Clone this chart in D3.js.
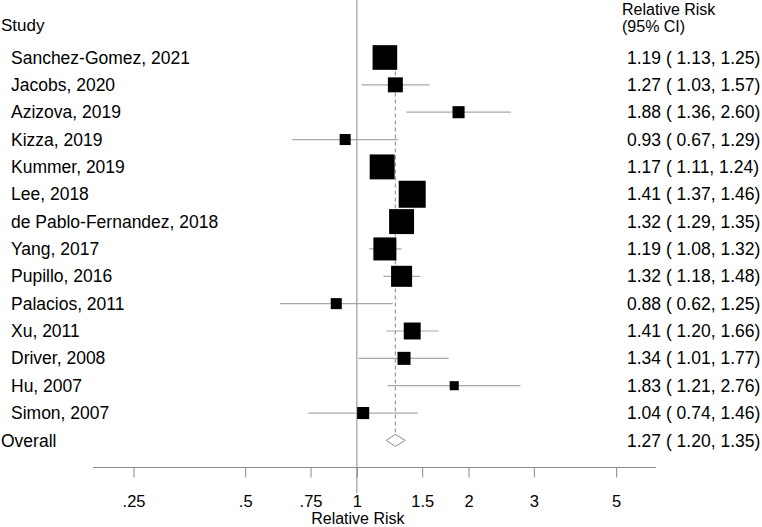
<!DOCTYPE html>
<html><head><meta charset="utf-8">
<script src="https://cdn.jsdelivr.net/npm/d3@7"></script>
<style>body{margin:0;background:#fff}svg{display:block}text{font-family:"Liberation Sans",Arial,sans-serif;fill:#000}</style>
</head><body><svg id="c" width="762" height="527"></svg>
<script>
const studies = ["Sanchez-Gomez, 2021","Jacobs, 2020","Azizova, 2019","Kizza, 2019","Kummer, 2019","Lee, 2018","de Pablo-Fernandez, 2018","Yang, 2017","Pupillo, 2016","Palacios, 2011","Xu, 2011","Driver, 2008","Hu, 2007","Simon, 2007"];
const rr    = [1.19,1.27,1.88,0.93,1.17,1.41,1.32,1.19,1.32,0.88,1.41,1.34,1.83,1.04];
const lower = [1.13,1.03,1.36,0.67,1.11,1.37,1.29,1.08,1.18,0.62,1.20,1.01,1.21,0.74];
const upper = [1.25,1.57,2.60,1.29,1.24,1.46,1.35,1.32,1.48,1.25,1.66,1.77,2.76,1.46];
const weights = [12.5,4.6,3.0,2.5,12.8,15.0,12.8,10.9,9.1,2.5,5.9,3.5,1.7,3.0];
const overall = {rr:1.27, lo:1.20, hi:1.35};
const tickValues = [0.25,0.5,0.75,1,1.5,2,3,5];
const tickLabels = [".25",".5",".75","1","1.5","2","3","5"];

const svg = d3.select("#c");
const fs = 17.5;
const x = d3.scaleLog().domain([Math.exp(-1.638), Math.exp(1.857)]).range([93, 656]);
const y = d3.scaleLinear().domain([0, 14]).range([57.5, 440.4]);
const side = d3.scaleSqrt().domain([0, 15]).range([0, 27]);
const fmt = d3.format(".2f");

// null line
svg.append("line").attr("x1", x(1)).attr("x2", x(1)).attr("y1", 0).attr("y2", 493)
  .attr("stroke", "#8a8a8a").attr("stroke-width", 1);
// overall dashed line
svg.append("line").attr("x1", x(overall.rr)).attr("x2", x(overall.rr)).attr("y1", y(0)).attr("y2", y(14) - 6)
  .attr("stroke", "#9a9a9a").attr("stroke-width", 1.2).attr("stroke-dasharray", "4,3");

// headers
svg.append("text").attr("x", 1).attr("y", 25).attr("dy", "0.35em").style("font-size", "17px").text("Study");
svg.append("text").attr("x", 622).attr("y", 9).attr("dy", "0.35em").style("font-size", "16px").text("Relative Risk");
svg.append("text").attr("x", 622).attr("y", 26.5).attr("dy", "0.35em").style("font-size", "16px").text("(95% CI)");

const rows = svg.append("g");
studies.forEach((s, i) => {
  const yy = y(i);
  rows.append("line").attr("x1", x(lower[i])).attr("x2", x(upper[i])).attr("y1", yy).attr("y2", yy)
    .attr("stroke", "#a8a8a8").attr("stroke-width", 1.2);
  const w = side(weights[i]);
  rows.append("rect").attr("x", x(rr[i]) - w / 2).attr("y", yy - w / 2).attr("width", w).attr("height", w).attr("fill", "#000");
  rows.append("text").attr("x", 11).attr("y", yy).attr("dy", "0.35em").style("font-size", fs + "px").text(s);
  rows.append("text").attr("x", 627).attr("y", yy).attr("dy", "0.35em").style("font-size", fs + "px")
    .text(`${fmt(rr[i])} ( ${fmt(lower[i])}, ${fmt(upper[i])})`);
});

// overall
const yo = y(14);
svg.append("path")
  .attr("d", `M${x(overall.lo)},${yo} L${x(overall.rr)},${yo - 6} L${x(overall.hi)},${yo} L${x(overall.rr)},${yo + 6} Z`)
  .attr("fill", "#fff").attr("stroke", "#8a8a8a").attr("stroke-width", 1);
svg.append("text").attr("x", 1).attr("y", yo).attr("dy", "0.35em").style("font-size", fs + "px").text("Overall");
svg.append("text").attr("x", 627).attr("y", yo).attr("dy", "0.35em").style("font-size", fs + "px")
  .text(`${fmt(overall.rr)} ( ${fmt(overall.lo)}, ${fmt(overall.hi)})`);

// axis
const axis = d3.axisBottom(x).tickValues(tickValues).tickFormat((d, i) => tickLabels[i]).tickSize(10).tickPadding(0);
const ag = svg.append("g").attr("transform", "translate(0,467.5)").call(axis);
ag.select(".domain").attr("stroke", "#8a8a8a").attr("d", `M${x.range()[0]},0H${x.range()[1]}`);
ag.selectAll(".tick line").attr("stroke", "#8a8a8a");
ag.selectAll(".tick text").style("font-size", "16.5px").attr("font-family", null)
  .attr("y", 33.5).attr("dy", "0.35em");
svg.append("text").attr("x", x(1) + 1).attr("y", 518.5).attr("dy", "0.35em").attr("text-anchor", "middle")
  .style("font-size", "16px").text("Relative Risk");
</script></body></html>
